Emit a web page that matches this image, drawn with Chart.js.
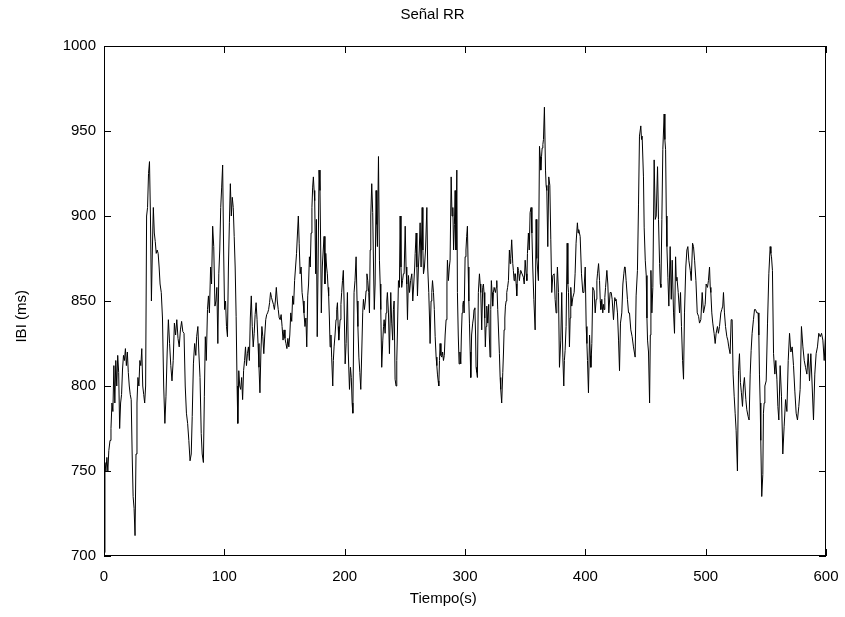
<!DOCTYPE html>
<html>
<head>
<meta charset="utf-8">
<script src="https://cdn.jsdelivr.net/npm/chart.js@4/dist/chart.umd.min.js"></script>
<style>
html, body { margin: 0; padding: 0; background: #fff; }
#wrap { width: 845px; height: 617px; }
</style>
</head>
<body>
<div id="wrap"><canvas id="rrChart" width="845" height="617"></canvas></div>
<script>
// texts and ticks
var titleText = 'Señal RR';
var xLabel = 'Tiempo(s)';
var yLabel = 'IBI (ms)';
var xTicks = [0, 100, 200, 300, 400, 500, 600];
var yTicks = [700, 750, 800, 850, 900, 950, 1000];

// RR intervals: [time (s), IBI (ms)]
var ibiSamples = [
  [0,702],[0.8,755],[1.6,750],[2.4,758],[3.2,750],[4,762],[5,768],[5.8,775],[6.6,790],[7.4,785],
  [8.2,812],[9,790],[9.8,815],[10.6,800],[11.4,818],[12.2,808],[13,775],[13.8,790],[14.6,795],[15.4,810],
  [16.2,818],[17,815],[17.8,822],[18.6,812],[19.4,820],[20.2,808],[21,800],[21.8,795],[22.6,792],[23.4,760],
  [24.2,735],[25,728],[25.8,712],[26.6,760],[27.4,790],[28.2,805],[29,800],[29.8,815],[30.6,812],[31.4,822],
  [32.2,800],[33,795],[33.8,790],[34.6,800],[35.4,900],[36.2,905],[37,925],[37.8,932],[38.6,900],[39.4,850],
  [40.2,880],[41,905],[41.8,890],[42.6,885],[43.4,878],[44.2,880],[45,878],[45.8,870],
  [46.6,860],[47.6,855],[48.6,840],[49.6,800],[50.6,778],[51.5,794],[52.5,820],[53.5,839],[54.5,825],[55.5,812],
  [56.5,803],[57.5,815],[58.5,837],[59.5,830],[60.5,839],[61.5,828],[62.5,823],[63.5,833],[64.5,838],[65.5,832],
  [66.5,831],[67.5,800],[68.5,784],[69.5,778],[70.5,768],[71.5,756],[72.5,760],[73.3,782],[74.3,813],[75.3,825],
  [76.3,818],[77,829],[78,835],[78.8,820],[79.8,805],[80.8,772],[81.6,760],[82.6,755],[83.4,794],[84.2,829],
  [85,815],[86,845],[86.8,853],[87.6,843],[88.6,870],[89.4,860],[90.3,894],[91.2,882],[92.2,847],[93,850],
  [93.8,858],[94.6,825],[95.4,866],[96.2,880],[97,905],[97.8,917],[98.6,930],[99.4,880],
  [100.2,845],[101,850],[101.8,835],[102.6,829],[103.4,870],[104.2,896],[105,919],[105.8,900],[106.6,911],[107.4,905],
  [108.2,888],[109,870],[109.8,841],[110.6,800],[111.2,778],[112,809],[112.8,800],[113.6,798],[114.4,805],[115.2,792],
  [116,809],[116.8,815],[117.6,823],[118.4,812],[119.2,819],[120,823],[120.8,815],[121.6,840],[122.4,853],[123.2,835],
  [124,823],[124.8,831],[125.6,842],[126.4,849],[127.2,839],[128,825],[128.8,811],[129.6,796],[130.4,820],[131.2,835],
  [132,829],[132.8,819],[133.6,830],[134.4,839],[135.2,842],[136,843],[136.8,845],[137.6,849],[138.4,855],[139.2,852],
  [140,850],[140.8,848],[141.6,845],[142.4,850],[143.2,858],[144,850],[144.8,845],[145.6,840],[146.4,839],[147.2,842],
  [148,835],[148.8,827],
  [149.6,833],[150.4,828],[151.2,825],[152,822],[152.8,828],[153.6,823],[154.4,830],[155.2,843],[156,838],[156.8,853],
  [157.6,848],[158.4,862],[159.2,870],[160,878],[160.8,890],[161.5,900],[162.2,884],[163,866],[163.8,870],[164.6,855],
  [165.4,850],[166.2,843],[167,835],[167.8,840],[168.5,823],[169.3,853],[170,860],[170.7,876],[171.4,870],[172.1,890],
  [172.8,905],[173.4,917],[174,923],[174.6,915],[175.1,909],[175.9,866],[176.5,898],[177.2,829],[177.9,870],[178.7,927],
  [179.5,915],[180.1,880],[180.6,843],[181.4,870],[182.2,880],[182.9,888],[183.6,860],[184.3,878],[185,870],[185.6,866],
  [186.2,858],[186.7,853],[187.3,840],[187.9,823],[188.6,830],[189.2,817],[190.1,800],[190.6,815],[191.2,823],[192,830],
  [192.8,839],[193.4,845],[194,849],[194.6,835],[195.1,827],[195.7,833],[196.2,839],[196.9,848],[197.5,855],[198.2,862],
  [198.9,868],
  [199.5,850],[200.4,813],[201.2,825],[202.3,855],[203,820],[204,798],[204.8,811],[205.5,805],[206.2,790],[206.8,784],
  [207.8,855],[208.6,862],[209.5,876],[210.3,850],[211,835],[211.8,817],[212.6,808],[213.4,798],[214.2,820],[215,843],
  [215.6,851],[216.4,845],[217.2,850],[217.8,856],[218.5,866],[219.2,862],[220,855],[220.6,843],[221.2,880],[221.7,900],
  [222.5,919],[223.3,902],[224,870],[224.6,845],[225.3,860],[226.1,915],[226.7,895],[227.2,882],[228.1,935],[228.9,874],
  [229.5,860],[230,845],[230.8,811],[231.7,827],[232.3,835],[232.8,839],[233.6,831],[234.4,843],[235,850],[235.5,855],
  [236.4,843],[237.2,819],[238.3,855],[239.1,837],[239.9,827],[240.5,845],[241.1,850],[241.9,804],[242.7,800],[243.3,815],
  [243.8,830],[244.7,862],[245.5,858],[246.1,900],[246.8,870],[247.4,858],[248.1,862],[248.8,866],
  [249.4,866],[250.3,894],[251,870],[251.6,860],[252.2,839],[253,865],[253.9,855],[254.8,862],[255.8,866],[256.6,850],
  [257.4,860],[258.2,870],[258.6,878],[259.4,890],[260,870],[260.5,853],[261.3,870],[262,880],[262.7,896],[263.5,870],
  [264.4,905],[265,880],[265.5,866],[266.3,870],[267.2,880],[268.3,905],[269,870],[269.9,855],[270.5,840],[271,825],
  [271.8,850],[272.4,855],[273,862],[273.8,855],[274.5,845],[275.2,829],[276,817],[276.6,812],[277.1,807],[277.7,803],
  [278.2,800],[278.8,815],[279.3,825],[280,818],[280.7,817],[281.4,820],[282.1,815],[282.8,818],[283.5,830],[284.3,839],
  [285,860],[285.4,874],[286.2,862],[287,870],[287.6,874],[288.5,923],[289.2,900],[289.9,905],[290.5,880],[291.2,895],
  [291.8,915],[292.5,880],[293.2,927],[293.7,855],[294.4,830],[295.1,813],[295.8,820],[296.5,813],[297,830],[297.6,843],
  [298.2,848],[298.7,850],
  [299.3,843],[300.1,876],[300.8,880],[301.4,888],[302,894],[302.6,870],[303.2,850],[303.7,837],[304.3,820],[304.8,805],
  [305.5,830],[306.4,837],[307,840],[307.5,845],[308.2,846],[308.8,830],[309.2,811],[309.8,808],[310.3,805],[311.1,855],
  [312,866],[312.6,860],[313.1,855],[313.9,833],[314.7,858],[315.3,860],[315.8,855],[316.4,840],[316.9,823],[317.5,835],
  [318.1,847],[318.9,837],[319.7,848],[320.2,830],[320.8,817],[321.4,845],[321.9,862],[322.5,855],[323,847],[323.6,855],
  [324.2,858],[325.3,855],[325.9,858],[326.4,862],[327.2,845],[328,830],[328.6,819],[329.2,805],[329.7,798],[330.5,790],
  [331.4,808],[332,820],[332.5,833],[333.1,840],[333.6,847],[334.2,850],[334.7,855],[335.4,858],[336.1,862],[336.9,880],
  [337.5,872],[338,875],[338.8,886],[339.7,872],[340.2,868],[340.8,862],[341.4,866],[341.9,866],[342.5,860],[343,853],
  [343.8,870],[344.5,868],[345.2,862],[345.8,866],[346.3,868],[347.4,866],[348.5,864],
  [349.2,860],[350,874],[350.8,866],[351.4,862],[351.9,878],[352.7,890],[353.4,880],[354.1,902],[354.9,905],[355.6,890],
  [356.3,870],[357.2,851],[358.3,833],[359.1,898],[359.7,875],[360.2,870],[361,862],[361.9,941],[362.5,935],[363,927],
  [363.6,935],[364.1,940],[364.7,942],[365.2,945],[366,964],[366.9,927],[367.4,918],[368,915],[368.8,882],[369.6,923],
  [370.5,918],[371.3,886],[372.1,855],[373,865],[374.1,866],[374.9,851],[375.7,843],[376.3,860],[376.8,870],[377.7,855],
  [378.5,811],[379.6,827],[380.4,855],[381.3,817],[382.1,800],[382.6,815],[383.2,821],[384,835],[384.9,884],[385.5,860],
  [386,855],[386.8,823],[387.4,840],[387.9,858],[388.7,847],[389.6,852],[390.7,855],[391.5,866],[392.3,884],[393.4,896],
  [394,890],[394.5,892],[395.7,888],[396.8,866],[397.9,855],
  [398.8,855],[399.9,870],[400.7,835],[401.3,825],[401.8,815],[402.6,796],[403.5,830],[404.2,818],[404.6,811],[405.4,825],
  [406.2,858],[407.3,856],[408.2,843],[409,851],[409.6,862],[410.1,866],[411,872],[411.8,862],[412.4,850],[412.9,845],
  [413.7,851],[414.5,843],[415.1,848],[415.6,845],[416.2,852],[416.8,858],[417.9,868],[418.7,860],[419.5,843],[420.1,850],
  [420.6,855],[421.5,855],[422.3,851],[423.4,839],[424.5,852],[425.1,850],[425.6,851],[426.7,843],[427.6,827],[428.4,809],
  [429.2,837],[430.3,843],[431.2,860],[432,866],[432.6,870],[433.1,870],[433.9,862],[435,851],[435.9,843],[436.7,843],
  [437.8,833],[438.9,829],[440,823],[440.7,820],[441.4,817],[442.2,853],[443.3,868],[444.2,907],[445,947],[446.1,953],
  [446.7,945],[447.2,947],[448.3,923],
  [448.9,893],[449.8,874],[450.6,865],[451.2,840],[451.7,827],[452.5,820],[453.4,790],[454,830],[454.5,868],[455.3,843],
  [456.1,858],[457.2,933],[458.1,898],[458.9,900],[460,929],[460.8,898],[461.7,872],[462.3,860],[462.8,858],[463.6,898],
  [464.4,939],[465.5,960],[466.1,945],[466.7,939],[467.3,900],[467.8,882],[468.6,864],[469.4,847],[470.5,882],[471.4,851],
  [472.2,874],[473.3,843],[474.1,831],[475,876],[475.6,862],[476.1,864],[477.2,855],[478.3,843],[479.1,855],[479.9,835],
  [480.8,815],[481.6,804],[482.4,843],[483.5,870],[484.4,880],[485.2,882],[486,874],[487.2,868],[488,862],[489.1,884],
  [489.9,882],[490.8,874],[491.9,862],[493,843],[494.1,841],[494.9,837],[496,839],[497.1,855],[498.2,843],
  [499.6,848],[500.4,860],[501.5,858],[502.3,862],[503.2,870],[503.8,858],[504.3,855],[505.1,843],[505.9,837],[507,831],
  [507.9,825],[508.7,831],[509.8,835],[510.6,831],[511.5,835],[512.6,843],[513.4,845],[514.2,847],[514.8,855],[515.6,843],
  [516.5,835],[517.6,829],[518.4,827],[519.2,823],[520.3,819],[521.2,839],[522,839],[522.8,807],[523.7,794],[524.5,784],
  [525.3,774],[526.4,750],[527.3,809],[528.1,819],[528.9,802],[529.7,796],[530.6,788],[531.4,800],[532.2,805],[533.4,792],
  [534.2,786],[535.3,782],[536.1,780],[537,807],[537.8,821],[538.6,831],[539.7,839],[540.6,845],[541.4,845],[542.5,843],
  [543.6,843],[544.2,830],[544.7,807],[545.3,790],[545.8,768],[546.6,735],[547.5,748],[548,784],
  [548.6,790],[549.2,800],[550.3,803],[551.4,837],[552.5,866],[553.6,882],[554.2,878],[554.7,876],[555.5,868],[556.4,819],
  [557.5,807],[558.3,815],[559.2,804],[560,788],[560.8,780],[561.9,812],[563,794],[564.1,760],[565.2,776],[566.4,792],
  [567.5,785],[568.6,815],[569.7,831],[570.8,820],[571.9,823],[573,812],[574.1,797],[575.2,784],[576.3,780],[577.4,788],
  [578.5,798],[579.6,835],[580.8,823],[581.9,815],[583,811],[584.1,807],[585.2,819],[586.3,803],[587.4,819],[588.5,800],
  [589.6,780],[590.7,807],[591.8,819],[592.9,823],[594,831],[595.2,829],[596.3,831],[597.4,827],[598.5,815],[599.6,830]
];

var fontFamily = '"Liberation Sans", Arial, sans-serif';

// MATLAB-like box with inward ticks on all four sides, plus title and axis labels
var matlabBox = {
  id: 'matlabBox',
  afterDatasetsDraw: function(chart) {
    var a = chart.chartArea, ctx = chart.ctx;
    var sx = chart.scales.x, sy = chart.scales.y, len = 7;
    ctx.save();
    ctx.strokeStyle = '#000';
    ctx.lineWidth = 1;
    ctx.strokeRect(Math.round(a.left) + 0.5, Math.round(a.top) + 0.5,
      Math.round(a.right - a.left) - 1, Math.round(a.bottom - a.top) - 1);
    ctx.beginPath();
    xTicks.forEach(function(v) {
      var px = Math.round(sx.getPixelForValue(v)) + 0.5;
      ctx.moveTo(px, a.bottom); ctx.lineTo(px, a.bottom - len);
      ctx.moveTo(px, a.top); ctx.lineTo(px, a.top + len);
    });
    yTicks.forEach(function(v) {
      var py = Math.round(sy.getPixelForValue(v)) + 0.5;
      ctx.moveTo(a.left, py); ctx.lineTo(a.left + len, py);
      ctx.moveTo(a.right, py); ctx.lineTo(a.right - len, py);
    });
    ctx.stroke();

    // texts (placed where the reference has them)
    var w = a.right - a.left, h = a.bottom - a.top;
    ctx.fillStyle = '#000';
    ctx.font = '15px ' + fontFamily;
    ctx.textAlign = 'center';
    ctx.textBaseline = 'middle';
    ctx.fillText(titleText, a.left + w * 0.455, 15);
    ctx.fillText(xLabel, a.left + w * 0.47, 599);
    ctx.translate(22, a.top + h * 0.53);
    ctx.rotate(-Math.PI / 2);
    ctx.fillText(yLabel, 0, 0);
    ctx.restore();
  }
};

var ctx = document.getElementById('rrChart');
var rrChart = new Chart(ctx, {
  type: 'line',
  data: {
    datasets: [{
      data: ibiSamples.map(function(p) { return { x: p[0], y: p[1] }; }),
      borderColor: '#000',
      borderWidth: 1,
      pointRadius: 0,
      tension: 0,
      fill: false
    }]
  },
  options: {
    responsive: false,
    animation: false,
    devicePixelRatio: 1,
    layout: { padding: { left: 0, right: 19, top: 46, bottom: 0 } },
    plugins: {
      legend: { display: false },
      tooltip: { enabled: false },
      title: { display: false }
    },
    scales: {
      x: {
        type: 'linear',
        min: 0, max: 600,
        afterBuildTicks: function(scale) { scale.ticks = xTicks.map(function(v) { return { value: v }; }); },
        afterFit: function(scale) { scale.height = 61; scale.paddingLeft = 0; scale.paddingRight = 0; },
        grid: { display: false, drawTicks: false },
        border: { display: false },
        ticks: { color: '#000', padding: 12, maxRotation: 0, font: { family: fontFamily, size: 15 },
          callback: function(v) { return String(v); } }
      },
      y: {
        min: 700, max: 1000,
        afterBuildTicks: function(scale) { scale.ticks = yTicks.map(function(v) { return { value: v }; }); },
        afterFit: function(scale) { scale.width = 104; scale.paddingTop = 0; scale.paddingBottom = 0; },
        grid: { display: false, drawTicks: false },
        border: { display: false },
        ticks: { color: '#000', padding: 8, font: { family: fontFamily, size: 15 },
          callback: function(v) { return String(v); } }
      }
    }
  },
  plugins: [matlabBox]
});
</script>
</body>
</html>
